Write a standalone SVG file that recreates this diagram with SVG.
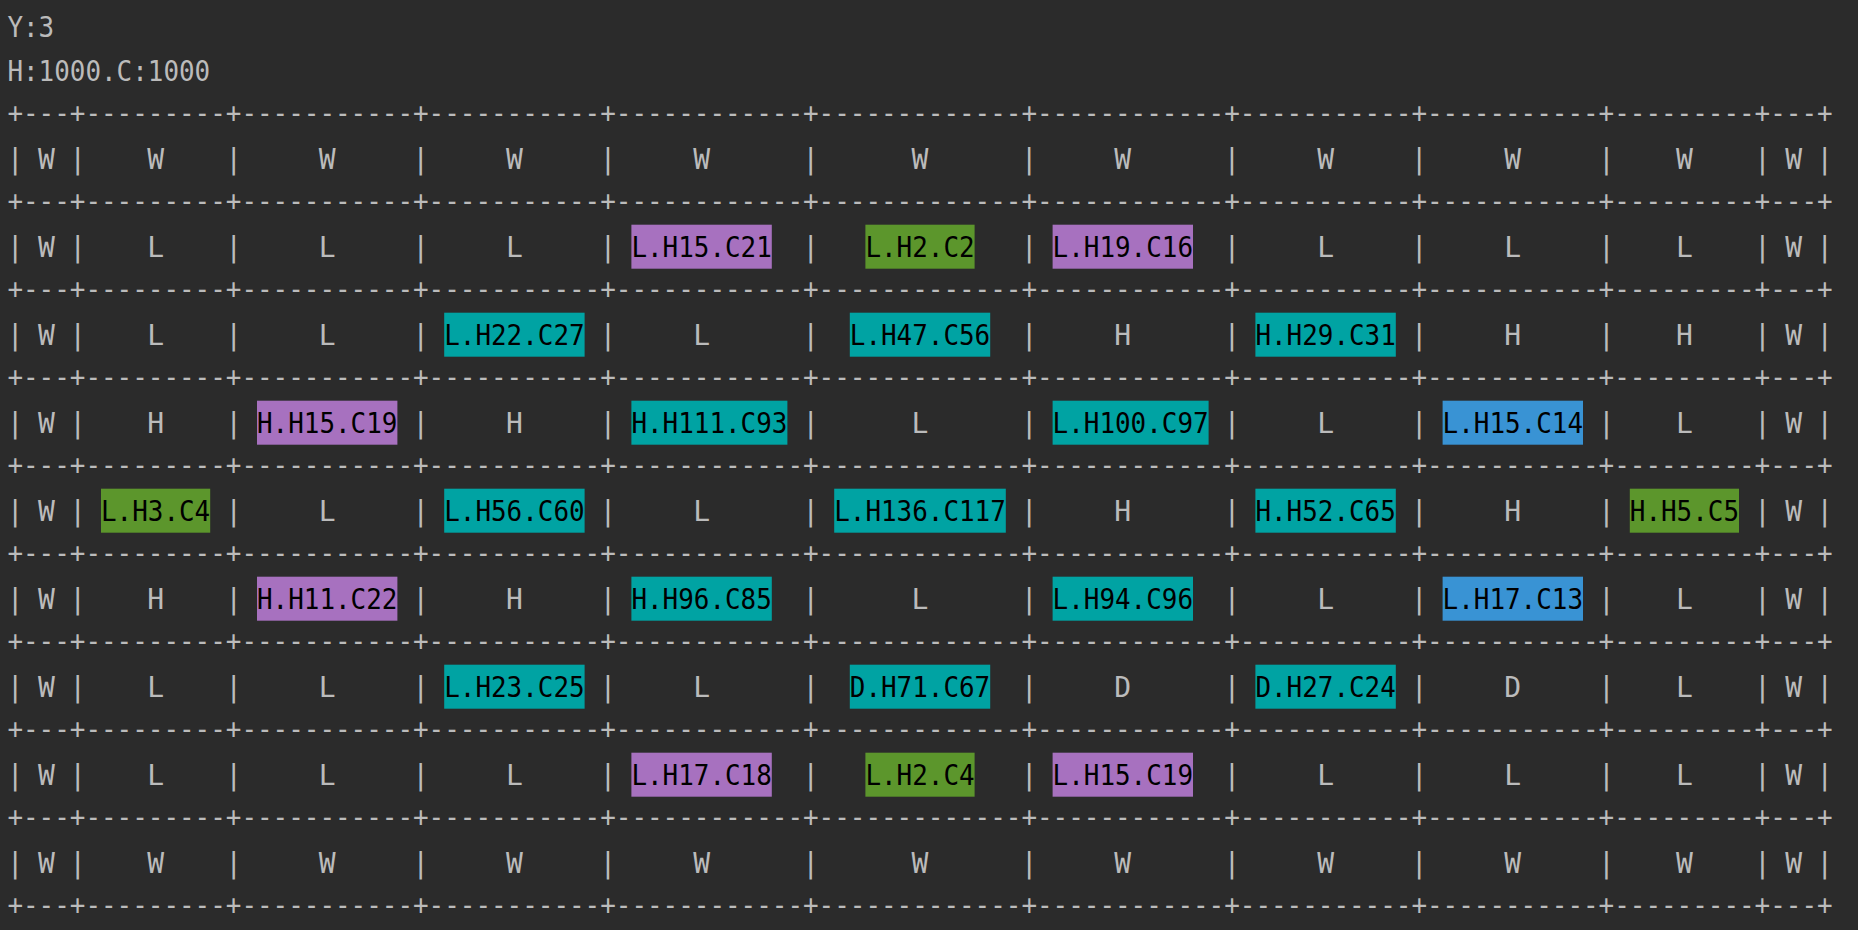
<svg xmlns="http://www.w3.org/2000/svg" xmlns:xlink="http://www.w3.org/1999/xlink" width="1858" height="930" viewBox="0 0 1858 930">
<style>
.t{font-family:"DejaVu Sans Mono","Liberation Mono",monospace;font-size:28px;fill:#BBBBBB}
.c{text-anchor:middle}
.k{font-family:"DejaVu Sans Mono","Liberation Mono",monospace;font-size:28px;fill:#000000}
.mg{fill:#A771BF}.gr{fill:#5C962C}.cy{fill:#00A3A3}.bl{fill:#3993D4}
</style>
<defs>
<text id="border" class="t" x="7.4" y="0" textLength="1825.2" lengthAdjust="spacingAndGlyphs">+---+---------+-----------+-----------+------------+-------------+------------+-----------+-----------+---------+---+</text>
<text id="pipes" class="t c" x="15.2 77.6 233.6 420.8 608 810.8 1029.2 1232 1419.2 1606.4 1762.4 1824.8" y="0">||||||||||||</text>
</defs>
<rect x="0" y="0" width="1858" height="930" fill="#2B2B2B"/>
<g id="header">
<text class="t" x="7.4" y="36.9" textLength="46.8" lengthAdjust="spacingAndGlyphs">Y:3</text>
<text class="t" x="7.4" y="80.9" textLength="202.8" lengthAdjust="spacingAndGlyphs">H:1000.C:1000</text>
</g>
<g id="grid-lines">
<use xlink:href="#border" y="122.9"/>
<use xlink:href="#border" y="210.9"/>
<use xlink:href="#border" y="298.9"/>
<use xlink:href="#border" y="386.9"/>
<use xlink:href="#border" y="474.9"/>
<use xlink:href="#border" y="562.9"/>
<use xlink:href="#border" y="650.9"/>
<use xlink:href="#border" y="738.9"/>
<use xlink:href="#border" y="826.9"/>
<use xlink:href="#border" y="914.9"/>
<use xlink:href="#pipes" y="168.9"/>
<use xlink:href="#pipes" y="256.9"/>
<use xlink:href="#pipes" y="344.9"/>
<use xlink:href="#pipes" y="432.9"/>
<use xlink:href="#pipes" y="520.9"/>
<use xlink:href="#pipes" y="608.9"/>
<use xlink:href="#pipes" y="696.9"/>
<use xlink:href="#pipes" y="784.9"/>
<use xlink:href="#pipes" y="872.9"/>
</g>
<g id="row0" class="t c">
<text x="46.4" y="168.9">W</text><text x="155.6" y="168.9">W</text><text x="327.2" y="168.9">W</text><text x="514.4" y="168.9">W</text><text x="701.6" y="168.9">W</text><text x="920" y="168.9">W</text><text x="1122.8" y="168.9">W</text><text x="1325.6" y="168.9">W</text><text x="1512.8" y="168.9">W</text><text x="1684.4" y="168.9">W</text><text x="1793.6" y="168.9">W</text>
</g>
<g id="row1" class="t c">
<text x="46.4" y="256.9">W</text><text x="155.6" y="256.9">L</text><text x="327.2" y="256.9">L</text><text x="514.4" y="256.9">L</text><text x="1325.6" y="256.9">L</text><text x="1512.8" y="256.9">L</text><text x="1684.4" y="256.9">L</text><text x="1793.6" y="256.9">W</text>
</g>
<g id="row2" class="t c">
<text x="46.4" y="344.9">W</text><text x="155.6" y="344.9">L</text><text x="327.2" y="344.9">L</text><text x="701.6" y="344.9">L</text><text x="1122.8" y="344.9">H</text><text x="1512.8" y="344.9">H</text><text x="1684.4" y="344.9">H</text><text x="1793.6" y="344.9">W</text>
</g>
<g id="row3" class="t c">
<text x="46.4" y="432.9">W</text><text x="155.6" y="432.9">H</text><text x="514.4" y="432.9">H</text><text x="920" y="432.9">L</text><text x="1325.6" y="432.9">L</text><text x="1684.4" y="432.9">L</text><text x="1793.6" y="432.9">W</text>
</g>
<g id="row4" class="t c">
<text x="46.4" y="520.9">W</text><text x="327.2" y="520.9">L</text><text x="701.6" y="520.9">L</text><text x="1122.8" y="520.9">H</text><text x="1512.8" y="520.9">H</text><text x="1793.6" y="520.9">W</text>
</g>
<g id="row5" class="t c">
<text x="46.4" y="608.9">W</text><text x="155.6" y="608.9">H</text><text x="514.4" y="608.9">H</text><text x="920" y="608.9">L</text><text x="1325.6" y="608.9">L</text><text x="1684.4" y="608.9">L</text><text x="1793.6" y="608.9">W</text>
</g>
<g id="row6" class="t c">
<text x="46.4" y="696.9">W</text><text x="155.6" y="696.9">L</text><text x="327.2" y="696.9">L</text><text x="701.6" y="696.9">L</text><text x="1122.8" y="696.9">D</text><text x="1512.8" y="696.9">D</text><text x="1684.4" y="696.9">L</text><text x="1793.6" y="696.9">W</text>
</g>
<g id="row7" class="t c">
<text x="46.4" y="784.9">W</text><text x="155.6" y="784.9">L</text><text x="327.2" y="784.9">L</text><text x="514.4" y="784.9">L</text><text x="1325.6" y="784.9">L</text><text x="1512.8" y="784.9">L</text><text x="1684.4" y="784.9">L</text><text x="1793.6" y="784.9">W</text>
</g>
<g id="row8" class="t c">
<text x="46.4" y="872.9">W</text><text x="155.6" y="872.9">W</text><text x="327.2" y="872.9">W</text><text x="514.4" y="872.9">W</text><text x="701.6" y="872.9">W</text><text x="920" y="872.9">W</text><text x="1122.8" y="872.9">W</text><text x="1325.6" y="872.9">W</text><text x="1512.8" y="872.9">W</text><text x="1684.4" y="872.9">W</text><text x="1793.6" y="872.9">W</text>
</g>
<g id="r1c5"><rect class="mg" x="631.4" y="224.7" width="140.4" height="44"/><text class="k" x="631.4" y="256.9" textLength="140.4" lengthAdjust="spacingAndGlyphs">L.H15.C21</text></g>
<g id="r1c6"><rect class="gr" x="865.4" y="224.7" width="109.2" height="44"/><text class="k" x="865.4" y="256.9" textLength="109.2" lengthAdjust="spacingAndGlyphs">L.H2.C2</text></g>
<g id="r1c7"><rect class="mg" x="1052.6" y="224.7" width="140.4" height="44"/><text class="k" x="1052.6" y="256.9" textLength="140.4" lengthAdjust="spacingAndGlyphs">L.H19.C16</text></g>
<g id="r2c4"><rect class="cy" x="444.2" y="312.7" width="140.4" height="44"/><text class="k" x="444.2" y="344.9" textLength="140.4" lengthAdjust="spacingAndGlyphs">L.H22.C27</text></g>
<g id="r2c6"><rect class="cy" x="849.8" y="312.7" width="140.4" height="44"/><text class="k" x="849.8" y="344.9" textLength="140.4" lengthAdjust="spacingAndGlyphs">L.H47.C56</text></g>
<g id="r2c8"><rect class="cy" x="1255.4" y="312.7" width="140.4" height="44"/><text class="k" x="1255.4" y="344.9" textLength="140.4" lengthAdjust="spacingAndGlyphs">H.H29.C31</text></g>
<g id="r3c3"><rect class="mg" x="257" y="400.7" width="140.4" height="44"/><text class="k" x="257" y="432.9" textLength="140.4" lengthAdjust="spacingAndGlyphs">H.H15.C19</text></g>
<g id="r3c5"><rect class="cy" x="631.4" y="400.7" width="156" height="44"/><text class="k" x="631.4" y="432.9" textLength="156" lengthAdjust="spacingAndGlyphs">H.H111.C93</text></g>
<g id="r3c7"><rect class="cy" x="1052.6" y="400.7" width="156" height="44"/><text class="k" x="1052.6" y="432.9" textLength="156" lengthAdjust="spacingAndGlyphs">L.H100.C97</text></g>
<g id="r3c9"><rect class="bl" x="1442.6" y="400.7" width="140.4" height="44"/><text class="k" x="1442.6" y="432.9" textLength="140.4" lengthAdjust="spacingAndGlyphs">L.H15.C14</text></g>
<g id="r4c2"><rect class="gr" x="101" y="488.7" width="109.2" height="44"/><text class="k" x="101" y="520.9" textLength="109.2" lengthAdjust="spacingAndGlyphs">L.H3.C4</text></g>
<g id="r4c4"><rect class="cy" x="444.2" y="488.7" width="140.4" height="44"/><text class="k" x="444.2" y="520.9" textLength="140.4" lengthAdjust="spacingAndGlyphs">L.H56.C60</text></g>
<g id="r4c6"><rect class="cy" x="834.2" y="488.7" width="171.6" height="44"/><text class="k" x="834.2" y="520.9" textLength="171.6" lengthAdjust="spacingAndGlyphs">L.H136.C117</text></g>
<g id="r4c8"><rect class="cy" x="1255.4" y="488.7" width="140.4" height="44"/><text class="k" x="1255.4" y="520.9" textLength="140.4" lengthAdjust="spacingAndGlyphs">H.H52.C65</text></g>
<g id="r4c10"><rect class="gr" x="1629.8" y="488.7" width="109.2" height="44"/><text class="k" x="1629.8" y="520.9" textLength="109.2" lengthAdjust="spacingAndGlyphs">H.H5.C5</text></g>
<g id="r5c3"><rect class="mg" x="257" y="576.7" width="140.4" height="44"/><text class="k" x="257" y="608.9" textLength="140.4" lengthAdjust="spacingAndGlyphs">H.H11.C22</text></g>
<g id="r5c5"><rect class="cy" x="631.4" y="576.7" width="140.4" height="44"/><text class="k" x="631.4" y="608.9" textLength="140.4" lengthAdjust="spacingAndGlyphs">H.H96.C85</text></g>
<g id="r5c7"><rect class="cy" x="1052.6" y="576.7" width="140.4" height="44"/><text class="k" x="1052.6" y="608.9" textLength="140.4" lengthAdjust="spacingAndGlyphs">L.H94.C96</text></g>
<g id="r5c9"><rect class="bl" x="1442.6" y="576.7" width="140.4" height="44"/><text class="k" x="1442.6" y="608.9" textLength="140.4" lengthAdjust="spacingAndGlyphs">L.H17.C13</text></g>
<g id="r6c4"><rect class="cy" x="444.2" y="664.7" width="140.4" height="44"/><text class="k" x="444.2" y="696.9" textLength="140.4" lengthAdjust="spacingAndGlyphs">L.H23.C25</text></g>
<g id="r6c6"><rect class="cy" x="849.8" y="664.7" width="140.4" height="44"/><text class="k" x="849.8" y="696.9" textLength="140.4" lengthAdjust="spacingAndGlyphs">D.H71.C67</text></g>
<g id="r6c8"><rect class="cy" x="1255.4" y="664.7" width="140.4" height="44"/><text class="k" x="1255.4" y="696.9" textLength="140.4" lengthAdjust="spacingAndGlyphs">D.H27.C24</text></g>
<g id="r7c5"><rect class="mg" x="631.4" y="752.7" width="140.4" height="44"/><text class="k" x="631.4" y="784.9" textLength="140.4" lengthAdjust="spacingAndGlyphs">L.H17.C18</text></g>
<g id="r7c6"><rect class="gr" x="865.4" y="752.7" width="109.2" height="44"/><text class="k" x="865.4" y="784.9" textLength="109.2" lengthAdjust="spacingAndGlyphs">L.H2.C4</text></g>
<g id="r7c7"><rect class="mg" x="1052.6" y="752.7" width="140.4" height="44"/><text class="k" x="1052.6" y="784.9" textLength="140.4" lengthAdjust="spacingAndGlyphs">L.H15.C19</text></g>
</svg>
